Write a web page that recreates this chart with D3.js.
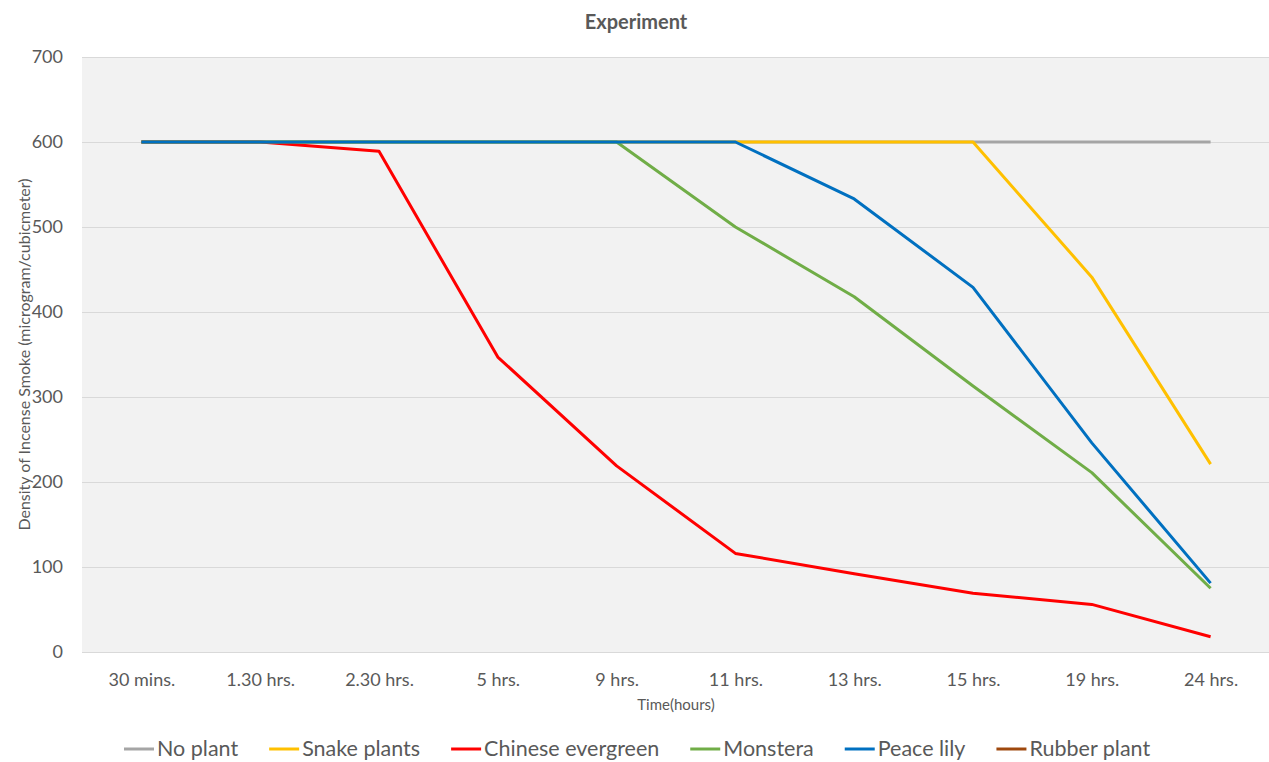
<!DOCTYPE html>
<html>
<head>
<meta charset="utf-8">
<script src="https://cdn.jsdelivr.net/npm/d3@7"></script>
<style>
  html, body { margin: 0; padding: 0; background: #fff; }
  svg { display: block; font-family: Lato, "Open Sans", sans-serif; }
</style>
</head>
<body>
<svg id="chart" width="1269" height="762"></svg>
<script>
// Sampling times along the x axis
const times = ["30 mins.", "1.30 hrs.", "2.30 hrs.", "5 hrs.", "9 hrs.", "11 hrs.", "13 hrs.", "15 hrs.", "19 hrs.", "24 hrs."];

// Smoke density (microgram/cubic meter) per plant
const noPlant          = [600, 600, 600, 600, 600, 600, 600, 600, 600, 600];
const snakePlants      = [600, 600, 600, 600, 600, 600, 600, 600, 441, 221];
const chineseEvergreen = [600, 600, 589, 347, 219, 116, 92, 69, 56, 18];
const monstera         = [600, 600, 600, 600, 600, 500, 418, 313, 211, 75];
const peaceLily        = [600, 600, 600, 600, 600, 600, 533, 429, 246, 81];
const rubberPlant      = [null, null, null, null, null, null, null, null, null, null];

const yTicks = [0, 100, 200, 300, 400, 500, 600, 700];

const series = [
  { name: "No plant",          values: noPlant,          color: "#A5A5A5" },
  { name: "Snake plants",      values: snakePlants,      color: "#FFC000" },
  { name: "Chinese evergreen", values: chineseEvergreen, color: "#FF0000" },
  { name: "Monstera",          values: monstera,         color: "#70AD47" },
  { name: "Peace lily",        values: peaceLily,        color: "#0070C0" },
  { name: "Rubber plant",      values: rubberPlant,      color: "#9E480E" }
];

const svg = d3.select("#chart");
const plot = { left: 82, right: 1270, top: 57, bottom: 652 };
const textColor = "#595959";

const x = d3.scalePoint().domain(times).range([plot.left, plot.right]).padding(0.5);
const y = d3.scaleLinear().domain([0, 700]).range([plot.bottom, plot.top]);

// Plot area background
svg.append("rect")
  .attr("x", plot.left).attr("y", plot.top)
  .attr("width", plot.right - plot.left).attr("height", plot.bottom - plot.top)
  .attr("fill", "#F2F2F2");

// Horizontal gridlines and y tick labels
const yAxis = d3.axisLeft(y).tickValues(yTicks).tickSize(-(plot.right - plot.left)).tickPadding(19);
const gy = svg.append("g").attr("transform", `translate(${plot.left},0)`).call(yAxis);
gy.select(".domain").remove();
gy.selectAll(".tick line").attr("stroke", "#D9D9D9").attr("stroke-width", 1);
gy.selectAll(".tick text").attr("fill", textColor).style("font-size", "18px")
  .attr("font-family", "Lato, 'Open Sans', sans-serif");

// Category labels
const xAxis = d3.axisBottom(x).tickSize(0).tickPadding(21);
const gx = svg.append("g").attr("transform", `translate(0,${plot.bottom})`).call(xAxis);
gx.select(".domain").remove();
gx.selectAll(".tick text").attr("fill", textColor).style("font-size", "18px")
  .attr("font-family", "Lato, 'Open Sans', sans-serif");

// Series lines
const line = d3.line()
  .defined(d => d != null)
  .x((d, i) => x(times[i]))
  .y(d => y(d));

svg.append("g").selectAll("path")
  .data(series)
  .join("path")
  .attr("d", s => line(s.values))
  .attr("fill", "none")
  .attr("stroke", s => s.color)
  .attr("stroke-width", 3)
  .attr("stroke-linejoin", "round");

// Title
svg.append("text")
  .attr("x", 636).attr("y", 29)
  .attr("text-anchor", "middle")
  .attr("fill", textColor)
  .style("font-size", "20px").style("font-weight", "bold")
  .text("Experiment");

// Axis titles
svg.append("text")
  .attr("x", (plot.left + plot.right) / 2).attr("y", 710)
  .attr("text-anchor", "middle")
  .attr("fill", textColor)
  .style("font-size", "15px")
  .text("Time(hours)");

svg.append("text")
  .attr("transform", `translate(30,${(plot.top + plot.bottom) / 2}) rotate(-90)`)
  .attr("text-anchor", "middle")
  .attr("fill", textColor)
  .style("font-size", "16px")
  .text("Density of Incense Smoke (microgram/cubicmeter)");

// Legend
const legend = svg.append("g").attr("transform", "translate(0,749)");
let lx = 124;
series.forEach(s => {
  const g = legend.append("g").attr("transform", `translate(${lx},0)`);
  g.append("line").attr("x1", 0).attr("x2", 30).attr("y1", 0).attr("y2", 0)
    .attr("stroke", s.color).attr("stroke-width", 3);
  const t = g.append("text").attr("x", 33).attr("y", 7)
    .attr("fill", textColor).style("font-size", "21.5px").text(s.name);
  lx += 33 + t.node().getComputedTextLength() + 31;
});
</script>
</body>
</html>
